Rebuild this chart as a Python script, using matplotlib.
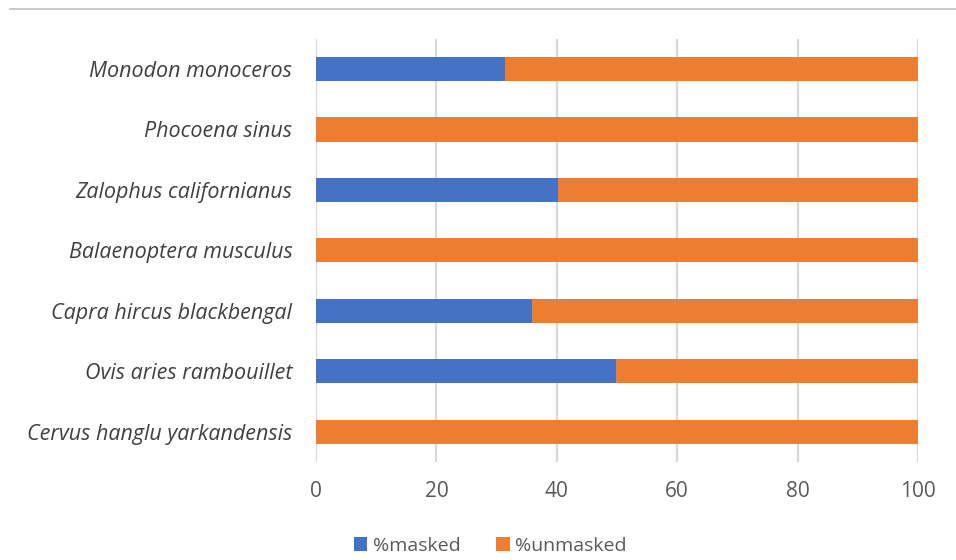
import numpy as np
import matplotlib.pyplot as plt
from matplotlib.lines import Line2D

species = ['Cervus hanglu yarkandensis', 'Ovis aries rambouillet', 'Capra hircus blackbengal',
           'Balaenoptera musculus', 'Zalophus californianus', 'Phocoena sinus', 'Monodon monoceros']
masked = np.array([0, 49.8, 35.8, 0, 40.2, 0, 31.4])
unmasked = 100 - masked

plt.rcParams['font.family'] = ['Open Sans', 'DejaVu Sans']

fig = plt.figure(figsize=(9.56, 5.6), dpi=100)
ax = fig.add_axes([0.3305, 0.175, 0.6298, 0.7558])

y = np.arange(len(species))
ax.barh(y, masked, height=0.4, color='#4472C4', label='%masked', zorder=3)
ax.barh(y, unmasked, left=masked, height=0.4, color='#ED7D31', label='%unmasked', zorder=3)

ax.set_xlim(0, 100)
ax.set_ylim(-0.5, len(species) - 0.5)
ax.set_xticks([0, 20, 40, 60, 80, 100])
ax.set_yticks(y)
ax.set_yticklabels(species, fontstyle='italic', fontsize=15.5, color='#404040')
ax.tick_params(axis='x', labelsize=15, colors='#595959', length=0, pad=14)
ax.tick_params(axis='y', length=0, pad=17)
ax.grid(axis='x', color='#d9d9d9', linewidth=1.6, zorder=0)
for s in ax.spines.values():
    s.set_visible(False)

ax.legend(loc='center', bbox_to_anchor=(0.513, 0.025), bbox_transform=fig.transFigure,
          ncol=2, frameon=False, fontsize=14, handlelength=0.7, handleheight=0.7,
          handletextpad=0.3, columnspacing=1.8, labelcolor='#595959')

fig.add_artist(Line2D([0.01, 1.0], [0.984, 0.984], color='#bfbfbf', linewidth=1.2))

fig.savefig('out.png', dpi=100)
